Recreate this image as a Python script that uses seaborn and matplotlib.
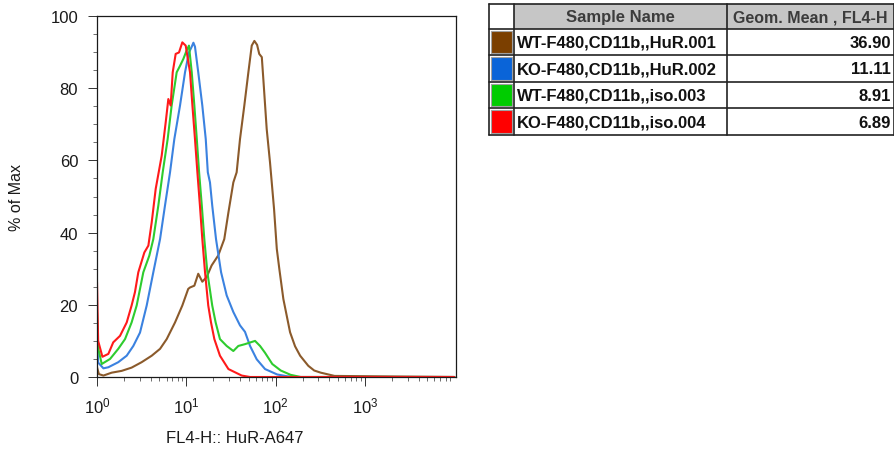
import matplotlib
matplotlib.use("Agg")
import pandas as pd
import matplotlib.pyplot as plt
from matplotlib.patches import Rectangle
from matplotlib.ticker import FixedLocator, MultipleLocator, LogLocator, NullFormatter
import seaborn as sns

SAMPLES = ["WT-F480,CD11b,,HuR.001", "KO-F480,CD11b,,HuR.002",
           "WT-F480,CD11b,,iso.003", "KO-F480,CD11b,,iso.004"]
GEO_MEANS = [36.90, 11.11, 8.91, 6.89]
SWATCH_COLORS = ["#7b3f00", "#0a64d8", "#00cc00", "#ff0000"]
LINE_COLORS = ["#8b5a2b", "#3b82e0", "#2ecc2e", "#ff1a1a"]

wt_hur_x = [1.0, 1.05, 1.18, 1.46, 1.89, 2.44, 3.16, 4.10, 5.08, 6.03,
            7.47, 9.02, 10.5, 11.0, 12.3, 13.6, 15.1, 16.9, 19.2, 22.8,
            26.6, 29.6, 33.6, 36.6, 39.9, 44.6, 49.5, 54.0, 57.8, 62.0,
            65.5, 70.0, 73.0, 79.4, 86.5, 96.0, 103, 110, 122, 145,
            165, 188, 232, 270, 320, 456, 10000]
wt_hur_y = [2.7, 0.8, 0.4, 1.2, 1.7, 2.6, 4.1, 5.9, 7.8, 10.5,
            15.1, 19.8, 24.4, 24.8, 25.3, 28.6, 26.4, 27.7, 30.9, 33.7,
            38.2, 45.6, 53.9, 56.7, 65.9, 75.2, 84.4, 91.8, 93.1, 92.0,
            89.5, 88.6, 82.1, 68.7, 59.4, 46.5, 35.5, 29.9, 21.6, 12.4,
            8.5, 5.9, 3.1, 1.8, 1.2, 0.3, 0.0]

ko_hur_x = [1.0, 1.03, 1.18, 1.34, 1.73, 2.15, 2.55, 3.03, 3.60, 4.27,
            5.08, 5.77, 6.57, 7.34, 8.50, 9.67, 10.7, 11.5, 12.0, 12.5,
            13.6, 15.1, 16.5, 17.4, 18.4, 19.5, 21.5, 24.5, 28.3, 33.6,
            39.9, 45.4, 51.7, 61.4, 76.1, 104, 135, 175, 10000]
ko_hur_y = [10.1, 4.0, 2.4, 2.7, 4.1, 5.9, 8.6, 12.3, 19.8, 29.0,
            38.2, 47.5, 56.7, 65.9, 75.2, 84.4, 89.9, 91.5, 92.6, 91.5,
            84.4, 75.2, 65.9, 56.7, 53.9, 47.5, 38.2, 29.0, 22.6, 18.0,
            14.3, 12.5, 8.6, 4.9, 2.2, 0.7, 0.2, 0.0, 0.0]

wt_iso_x = [1.0, 1.03, 1.13, 1.40, 1.73, 2.06, 2.44, 2.78, 3.03, 3.30,
            3.85, 4.27, 4.86, 5.44, 6.18, 6.85, 7.80, 8.50, 9.26, 10.1,
            10.7, 11.5, 12.3, 13.1, 13.9, 14.9, 15.9, 17.2, 19.5, 21.3,
            23.8, 28.3, 33.6, 38.2, 45.4, 58.8, 66.9, 76.1, 91.7, 114,
            147, 191, 10000]
wt_iso_y = [17.9, 8.0, 3.6, 5.0, 7.8, 10.5, 15.1, 19.8, 24.4, 29.0,
            33.6, 38.2, 47.5, 56.7, 65.9, 75.2, 84.4, 86.2, 88.1, 90.5,
            91.8, 84.4, 75.2, 65.9, 56.7, 47.5, 38.2, 29.0, 19.8, 15.1,
            10.5, 8.6, 7.2, 8.6, 9.1, 10.0, 8.6, 6.7, 3.6, 1.8,
            0.6, 0.0, 0.0]

ko_iso_x = [1.0, 1.03, 1.15, 1.34, 1.52, 1.81, 2.15, 2.44, 2.66, 2.90,
            3.39, 3.76, 4.10, 4.54, 5.30, 5.88, 6.29, 6.68, 7.04, 7.60,
            8.28, 9.02, 9.84, 11.0, 11.7, 12.5, 13.3, 14.2, 15.1, 16.2,
            17.6, 18.9, 20.6, 23.8, 29.6, 41.7, 51.7, 10000]
ko_iso_y = [26.2, 10.0, 5.6, 6.4, 9.6, 11.4, 15.1, 19.8, 23.5, 29.0,
            34.5, 36.4, 42.9, 52.1, 61.3, 70.6, 77.0, 75.2, 84.4, 89.5,
            89.9, 92.7, 91.8, 84.4, 75.2, 65.9, 56.7, 47.5, 38.2, 29.0,
            19.8, 15.1, 10.5, 5.9, 2.2, 0.4, 0.0, 0.0]

XTICKS = [1, 10, 100, 1000]
XTICK_LABELS = ["$10^{0}$", "$10^{1}$", "$10^{2}$", "$10^{3}$"]

sns.set_style("ticks")
plt.rcParams["font.family"] = ["Liberation Sans", "DejaVu Sans"]
plt.rcParams["mathtext.default"] = "regular"

curvas = [(wt_hur_x, wt_hur_y), (ko_hur_x, ko_hur_y), (wt_iso_x, wt_iso_y), (ko_iso_x, ko_iso_y)]
df = pd.concat([pd.DataFrame({"fl4_h": x, "pct_max": y, "sample": s})
                for (x, y), s in zip(curvas, SAMPLES)], ignore_index=True)

fig = plt.figure(figsize=(8.95, 4.52), dpi=100)
ax = fig.add_axes([97 / 895, 1 - 378 / 452, 359 / 895, 361 / 452])

sns.lineplot(data=df, x="fl4_h", y="pct_max", hue="sample", hue_order=SAMPLES,
             palette=dict(zip(SAMPLES, LINE_COLORS)), sort=False, estimator=None,
             legend=False, linewidth=1.5, ax=ax)

ax.set_xscale("log")
ax.set_xlim(1, 10450)
ax.set_ylim(0, 100)
ax.xaxis.set_major_locator(FixedLocator(XTICKS))
ax.set_xticklabels(XTICK_LABELS)
ax.xaxis.set_minor_locator(LogLocator(base=10, subs=range(2, 10), numticks=20))
ax.xaxis.set_minor_formatter(NullFormatter())
ax.yaxis.set_major_locator(MultipleLocator(20))
ax.yaxis.set_minor_locator(MultipleLocator(5))

for sp in ax.spines.values():
    sp.set_visible(True)
    sp.set_color("#1a1a1a")
    sp.set_linewidth(0.9)
ax.tick_params(which="major", direction="out", length=6.5, width=0.7, color="#333333",
               labelsize=12, labelcolor="#1a1a1a")
ax.tick_params(which="minor", direction="out", length=3, width=0.6, color="#555555")
ax.tick_params(axis="y", which="major", pad=7)
ax.tick_params(axis="x", which="major", pad=7)

ax.set_xlabel("FL4-H:: HuR-A647", fontsize=12, color="#1a1a1a")
ax.set_ylabel("% of Max", fontsize=11.5, color="#1a1a1a")
ax.xaxis.set_label_coords(0.384, -0.147)
ax.yaxis.set_label_coords(-0.203, 0.5)

# --- tabla de muestras ---
tax = fig.add_axes([489 / 895, 1 - 136 / 452, 405 / 895, 131 / 452])
tax.set_xlim(0, 405)
tax.set_ylim(131, 0)
tax.axis("off")
col_edges = [0, 25, 238, 405]
row_edges = [0, 24.5, 51, 77.5, 104, 131]

tax.add_patch(Rectangle((col_edges[1], 0), col_edges[3] - col_edges[1], row_edges[1],
                        facecolor="#c6c6c6", edgecolor="none"))
tax.text((col_edges[1] + col_edges[2]) / 2, row_edges[1] / 2 + 0.5, "Sample Name",
         ha="center", va="center", fontsize=12, fontweight="bold", color="#3c3c3c")
tax.text((col_edges[2] + col_edges[3]) / 2, row_edges[1] / 2 + 0.5, "Geom. Mean , FL4-H",
         ha="center", va="center", fontsize=11.5, fontweight="bold", color="#3c3c3c")

for i, (name, gm, col) in enumerate(zip(SAMPLES, GEO_MEANS, SWATCH_COLORS)):
    r0, r1 = row_edges[i + 1], row_edges[i + 2]
    tax.add_patch(Rectangle((2, r0 + 2), col_edges[1] - 4, r1 - r0 - 4,
                            facecolor=col, edgecolor="#a0a0a0", linewidth=0.8))
    yc = (r0 + r1) / 2 + 0.5
    tax.text(col_edges[1] + 3, yc, name, ha="left", va="center",
             fontsize=12, fontweight="bold", color="#111111")
    tax.text(col_edges[3] - 3, yc, f"{gm:.2f}", ha="right", va="center",
             fontsize=12, fontweight="bold", color="#111111")

for yv in row_edges:
    tax.plot([0, 405], [yv, yv], color="#222222", lw=1.2, clip_on=False)
for xv in col_edges:
    tax.plot([xv, xv], [0, 131], color="#222222", lw=1.2, clip_on=False)

fig.savefig("out.png", dpi=100)
plt.close(fig)
